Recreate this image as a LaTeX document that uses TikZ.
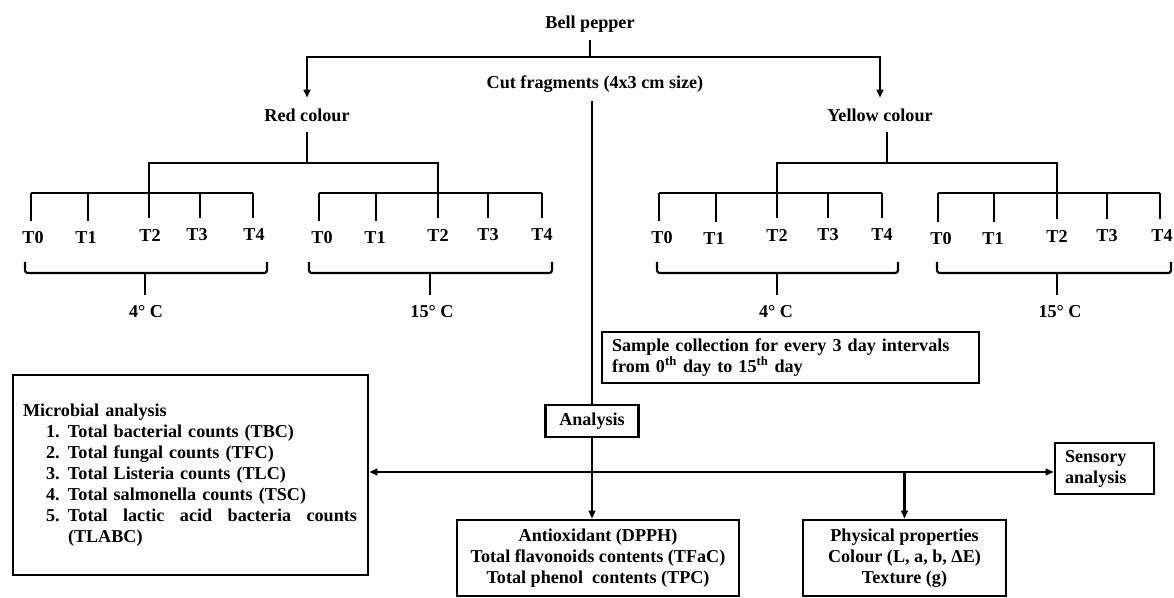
\documentclass[tikz,border=0pt]{standalone}
\usepackage{fontspec}
\setmainfont{Liberation Serif}
\usetikzlibrary{arrows.meta,positioning,calc}
\tikzset{lbl/.style={font=\bfseries\fontsize{13.6}{15.75}\selectfont,inner xsep=2pt,inner ysep=8pt,align=center},
box/.style={draw,line width=2pt,font=\bfseries\fontsize{13.6}{15.75}\selectfont,inner sep=0pt,align=center},
link/.style={line width=1.6pt},edge/.style={link,-{Triangle[length=6pt,width=5pt]}},
brace/.style={link,rounded corners=2pt}}

\begin{document}
\begin{tikzpicture}[x=0.75pt,y=-0.75pt]
\useasboundingbox (0,0) rectangle (1174,598);
% top of the tree
\node[lbl,inner ysep=6pt] (bell) at (590,24){Bell pepper};
\coordinate (split) at (590,57);
\node[lbl] (red) at (307,115){Red colour};
\node[lbl] (yellow) at (880,115){Yellow colour};
\draw[link](bell)--(split);
\draw[edge](split)-|(red);
\draw[edge](split)-|(yellow);
\coordinate (redJ) at (307,163);
\coordinate (redL) at (149,163);
\coordinate (redR) at (438,163);
\coordinate (yelJ) at (887,163);
\coordinate (yelL) at (777,163);
\coordinate (yelR) at (1057,163);
\draw[link](red)--(redJ);
\draw[link](yelJ |- yellow.south)--(yelJ);
% red, 4 and 15 C
\foreach \i/\tx/\lx/\ly in {0/31/33/238,1/88/86/238,2/149/150/235,3/200/197/235,4/253/254/235}{
\coordinate (ra\i) at (\tx,193);
\node[lbl] (raT\i) at (\lx,\ly){T\i};
\draw[link](ra\i)--(ra\i |- raT\i.north);}
\foreach \i/\tx/\lx/\ly in {0/319/322/238,1/376/375/238,2/438/438/235,3/488/488/235,4/542/542/235}{
\coordinate (rb\i) at (\tx,193);
\node[lbl] (rbT\i) at (\lx,\ly){T\i};
\draw[link](rb\i)--(rb\i |- rbT\i.north);}
\draw[link](ra0)--(ra4);
\draw[link](rb0)--(rb4);
\draw[link](ra2)--(redL)--(redR)--(rb2);
% yellow, 4 and 15 C
\foreach \i/\tx/\lx/\ly in {0/659/662/238,1/716/714/239,2/777/777/235,3/828/828/235,4/882/882/235}{
\coordinate (ya\i) at (\tx,193);
\node[lbl] (yaT\i) at (\lx,\ly){T\i};
\draw[link](ya\i)--(ya\i |- yaT\i.north);}
\foreach \i/\tx/\lx/\ly in {0/938/941/239,1/994/993/239,2/1057/1057/236,3/1107/1107/236,4/1160/1162/236}{
\coordinate (yb\i) at (\tx,193);
\node[lbl] (ybT\i) at (\lx,\ly){T\i};
\draw[link](yb\i)--(yb\i |- ybT\i.north);}
\draw[link](ya0)--(ya4);
\draw[link](yb0)--(yb4);
\draw[link](ya2)--(yelL)--(yelR)--(yb2);
% temperatures
\node[lbl] (raC) at (146,312){4° C};
\node[lbl] (rbC) at (432,312){15° C};
\node[lbl] (yaC) at (776,312){4° C};
\node[lbl] (ybC) at (1060,312){15° C};
\draw[brace](25,262)--(25,273)--(267,273)--(267,262);
\draw[brace](309,262)--(309,273)--(552,273)--(552,262);
\draw[brace](657,262)--(657,273)--(898,273)--(898,262);
\draw[brace](937,262)--(937,273)--(1171,273)--(1171,262);
\coordinate (raB) at (145,273);
\coordinate (rbB) at (430,273);
\coordinate (yaB) at (777,273);
\coordinate (ybB) at (1057,273);
\draw[link](raB)--(raB |- raC.north);
\draw[link](rbB)--(rbB |- rbC.north);
\draw[link](yaB)--(yaB |- yaC.north);
\draw[link](ybB)--(ybB |- ybC.north);
% analysis part
\node[lbl,inner ysep=6pt] (cut) at (595,84){Cut fragments (4x3 cm size)};
\node[box,minimum width=69.75pt,minimum height=24pt] (ana) at (592,421){Analysis};
\node[box,align=left,text width=267.75pt,inner xsep=7.5pt,minimum height=38.25pt] (samp) at (790.5,357.5){Sample collection for every 3 day intervals\\from 0\textsuperscript{th} day to 15\textsuperscript{th} day};
\node[box,align=left,text width=251.25pt,inner xsep=7.5pt,minimum height=150pt] (micro) at (190.5,475){Microbial analysis\\
\hspace*{17.25pt}\makebox[16.5pt][l]{1.}Total bacterial counts (TBC)\\
\hspace*{17.25pt}\makebox[16.5pt][l]{2.}Total fungal counts (TFC)\\
\hspace*{17.25pt}\makebox[16.5pt][l]{3.}Total Listeria counts (TLC)\\
\hspace*{17.25pt}\makebox[16.5pt][l]{4.}Total salmonella counts (TSC)\\
\hspace*{17.25pt}\makebox[16.5pt][l]{5.}\makebox[216.75pt][l]{Total\hfill lactic\hfill acid\hfill bacteria\hfill counts}\\
\hspace*{33.75pt}(TLABC)};
\node[box,minimum width=211.5pt,minimum height=57pt] (anti) at (598,558){Antioxidant (DPPH)\\Total flavonoids contents (TFaC)\\Total phenol\ \ contents (TPC)};
\node[box,minimum width=152.25pt,minimum height=57pt] (phys) at (904.5,558){Physical properties\\Colour (L, a, b, ΔE)\\Texture (g)};
\node[box,align=left,text width=59.25pt,inner xsep=7.5pt,minimum height=38.25pt] (sens) at (1104.5,468.5){Sensory\\analysis};
\coordinate (hub) at (592,472);
\draw[link](ana.north |- cut.south)--(ana);
\draw[edge](ana.south)--(ana.south |- anti.north);
\draw[edge](hub)--(hub -| micro.east);
\draw[edge](hub)--(hub -| sens.west);
\draw[edge](hub -| phys.north)--(phys.north);
\end{tikzpicture}
\end{document}
